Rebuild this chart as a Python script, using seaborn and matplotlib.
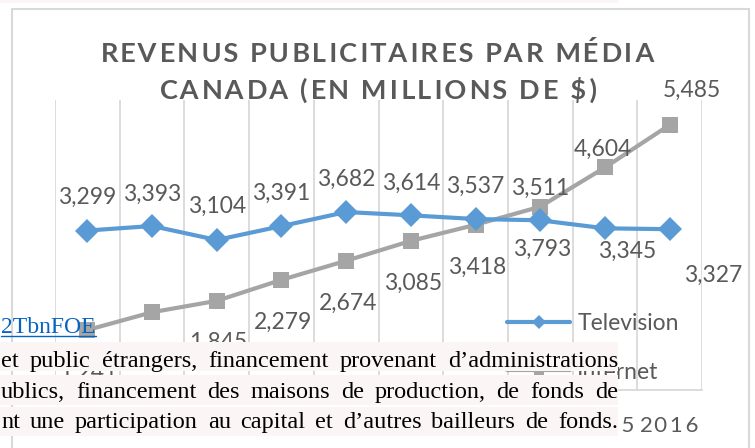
import numpy as np
import pandas as pd
import matplotlib
matplotlib.use("Agg")
import matplotlib.pyplot as plt
import seaborn as sns
from matplotlib.lines import Line2D
from matplotlib.patches import Rectangle

# ---------------- data ----------------
years = ["2007", "2008", "2009", "2010", "2011", "2012", "2013", "2014", "2015", "2016"]
television = [3299, 3393, 3104, 3391, 3682, 3614, 3537, 3511, 3345, 3327]
internet = [1241, 1609, 1845, 2279, 2674, 3085, 3418, 3793, 4604, 5485]
series_names = ["Television", "Internet"]
title_lines = ["REVENUS PUBLICITAIRES PAR MÉDIA", "CANADA (EN MILLIONS DE $)"]
body_lines = [
    "et public étrangers, financement provenant d’administrations",
    "ublics, financement des maisons de production, de fonds de",
    "nt une participation au capital et d’autres bailleurs de fonds.",
]
link_text = "2TbnFOE"

# label offsets in pixels (dx, dy downwards) as placed in the source picture
tv_label_off = [(0, -33), (0, -32), (0, -34), (0, -33), (0, -33), (0, -32), (0, -33), (0, -32), (22, 23), (43, 46)]
net_label_off = [(1, 42), (1, 42), (1, 42), (2, 42), (2, 43), (2, 42), (2, 43), (2, 43), (-2, -18), (22, -35)]

# ---------------- style ----------------
W, H = 755, 448
BLUE = "#5B9BD5"
GRAY = "#A5A5A5"
TXT = "#595959"
GRID = "#D9D9D9"
SANS = ["Lato", "DejaVu Sans"]
SERIF = ["Liberation Serif", "DejaVu Serif"]

sns.set_theme(style="white")
plt.rcParams["font.family"] = SANS

fig = plt.figure(figsize=(W / 100, H / 100), dpi=100)
fig.patch.set_facecolor("white")
renderer = fig.canvas.get_renderer()


def px(x, y):
    return x / W, 1 - y / H


def text_width(s, **kw):
    t = fig.text(0, 0, s, **kw)
    w = t.get_window_extent(renderer).width
    t.remove()
    return w


def spaced_text(s, target_w, **kw):
    """letter-space s with hair spaces so that it is about target_w pixels wide"""
    h = "\u200a"
    gaps = len(s) - 1
    w0 = text_width(s, **kw)
    w1 = text_width(h.join(s), **kw)
    wh = (w1 - w0) / gaps
    n = max(0, int(round((target_w - w0) / wh))) if wh > 0 else 0
    out = s[0]
    for i in range(gaps):
        k = (i + 1) * n // gaps - i * n // gaps
        out += h * k + s[i + 1]
    return out


# chart outer border
fig.patches.append(Rectangle(px(11.5, 470), (749 - 11.5) / W, (470 - 9.5) / H,
                             transform=fig.transFigure, fill=False,
                             edgecolor=GRID, lw=1.5, zorder=0.2))

# ---------------- axes ----------------
ax = fig.add_axes([55 / W, 1 - 390 / H, 647 / W, 290 / H])
ax.set_facecolor("none")
df = pd.DataFrame({"x": np.arange(len(years)), "Television": television, "Internet": internet})

sns.lineplot(data=df, x="x", y="Internet", ax=ax, color=GRAY, lw=3,
             marker="s", markersize=12, markeredgewidth=0, zorder=3)
sns.lineplot(data=df, x="x", y="Television", ax=ax, color=BLUE, lw=3,
             marker="D", markersize=12.5, markeredgewidth=0, zorder=4)

ax.set_xlim(-0.5, len(years) - 0.5)
ax.set_ylim(0, 6000)
ax.set_xlabel("")
ax.set_ylabel("")
ax.set_yticks([])
ax.set_xticks(np.arange(-0.5, len(years), 1), minor=True)
ax.grid(False)
ax.grid(which="minor", axis="x", color=GRID, lw=1.3)
for s in ["left", "right", "top"]:
    ax.spines[s].set_visible(False)
ax.spines["bottom"].set_color(GRID)
ax.spines["bottom"].set_linewidth(1.3)

tick_kw = dict(fontsize=16, family=SANS)
ax.set_xticks(np.arange(len(years)))
ax.set_xticklabels([spaced_text(y, 59, **tick_kw) for y in years], color=TXT, **tick_kw)
ax.tick_params(axis="x", which="both", length=0, pad=19)

lab_kw = dict(fontsize=16.5, color=TXT, family=SANS)
for i, v in enumerate(television):
    dx, dy = tv_label_off[i]
    ax.annotate(f"{v:,}", (i, v), xytext=(dx, -dy), textcoords="offset pixels",
                ha="center", va="center", **lab_kw)
for i, v in enumerate(internet):
    dx, dy = net_label_off[i]
    ax.annotate(f"{v:,}", (i, v), xytext=(dx, -dy), textcoords="offset pixels",
                ha="center", va="center", **lab_kw)

# ---------------- title ----------------
title_kw = dict(fontsize=19.5, fontweight="bold", color=TXT, family=SANS)
fig.text(*px(378, 53), spaced_text(title_lines[0], 553, **title_kw), ha="center", va="center", **title_kw)
fig.text(*px(378, 90), spaced_text(title_lines[1], 437, **title_kw), ha="center", va="center", **title_kw)

# ---------------- legend ----------------
handles = [Line2D([], [], color=BLUE, lw=3, marker="D", ms=7, mew=0),
           Line2D([], [], color=GRAY, lw=3, marker="s", ms=7, mew=0)]
leg = fig.legend(handles, series_names, loc="upper left",
                 bbox_to_anchor=px(507, 313), bbox_transform=fig.transFigure,
                 frameon=False, borderpad=0, borderaxespad=0, handlelength=2.75,
                 handletextpad=0.32, labelspacing=1.2, prop={"family": SANS, "size": 16.5})
for t in leg.get_texts():
    t.set_color(TXT)
leg.set_zorder(5)

# ---------------- overlaid document text ----------------
band_color = "#FCF5F5"
bands = [(342, 371), (375, 405), (407, 436)]
for (y0, y1) in bands:
    fig.patches.append(Rectangle(px(0, y1), 618 / W, (y1 - y0) / H, transform=fig.transFigure,
                                 facecolor=band_color, edgecolor="none", zorder=6))
fig.patches.append(Rectangle(px(0, 3), 618 / W, 3 / H, transform=fig.transFigure,
                             facecolor=band_color, edgecolor="none", zorder=6))

body_kw = dict(fontsize=17.5, family=SERIF, color="black")
baselines = [367, 398, 428]
left, right = 1, 618
for line, yb in zip(body_lines, baselines):
    words = line.split(" ")
    widths = [text_width(w_, **body_kw) for w_ in words]
    gap = (right - left - sum(widths)) / (len(words) - 1)
    x = left
    for w_, wd in zip(words, widths):
        fig.text(*px(x, yb), w_, ha="left", va="baseline", zorder=7, **body_kw)
        x += wd + gap

# link fragment
lt = fig.text(*px(1, 333), link_text, ha="left", va="baseline", fontsize=17,
              family=SERIF, color="#0563C1", zorder=7)
lw_ = lt.get_window_extent(renderer).width
fig.lines.append(Line2D([1 / W, (1 + lw_) / W], [1 - 335.5 / H] * 2, transform=fig.transFigure,
                        color="#0563C1", lw=1, zorder=7))

fig.savefig("out.png", dpi=100, facecolor="white")
